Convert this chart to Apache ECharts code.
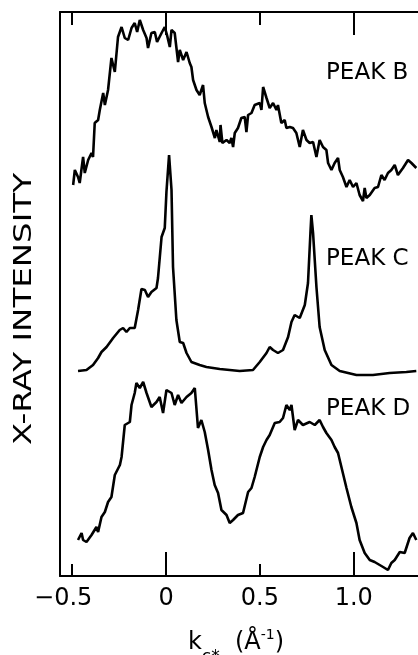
<!DOCTYPE html>
<html>
<head>
<meta charset="utf-8">
<script src="https://cdn.jsdelivr.net/npm/echarts@6/dist/echarts.min.js"></script>
<style>html,body{margin:0;padding:0;background:#fff}#c{width:418px;height:655px}</style>
</head>
<body>
<div id="c"></div>
<script>
// x: k_c* (1/Angstrom); y: X-ray intensity (arbitrary units, curves offset)
const tickLabels = [-0.5, 0, 0.5, 1.0];
const majorTicks = [0, 1.0];
const minorTicks = [-0.5, 0.5];
const seriesNames = ['PEAK B', 'PEAK C', 'PEAK D'];

const peakB = [[-0.495,391],[-0.486,406],[-0.469,399],[-0.460,393],[-0.442,419],[-0.433,403],[-0.415,416],[-0.397,423],[-0.389,419],[-0.380,453],[-0.362,456],[-0.353,466],[-0.335,483],[-0.326,471],[-0.309,486],[-0.291,518],[-0.282,519],[-0.273,504],[-0.256,539],[-0.237,549],[-0.220,538],[-0.202,536],[-0.184,548],[-0.167,553],[-0.154,544],[-0.140,556],[-0.122,546],[-0.104,538],[-0.096,528],[-0.078,543],[-0.060,544],[-0.048,534],[-0.024,543],[-0.007,549],[0.005,541],[0.020,529],[0.029,546],[0.046,543],[0.064,514],[0.073,526],[0.091,516],[0.109,524],[0.126,513],[0.135,509],[0.144,496],[0.162,486],[0.179,481],[0.197,491],[0.206,473],[0.224,459],[0.242,449],[0.260,438],[0.268,446],[0.286,434],[0.290,451],[0.300,433],[0.322,436],[0.339,433],[0.348,438],[0.357,429],[0.366,443],[0.383,448],[0.401,458],[0.419,459],[0.428,444],[0.437,461],[0.455,463],[0.472,471],[0.499,473],[0.508,466],[0.517,489],[0.535,478],[0.552,468],[0.570,473],[0.588,466],[0.596,471],[0.614,453],[0.632,456],[0.641,448],[0.659,449],[0.676,448],[0.694,443],[0.712,429],[0.729,446],[0.748,436],[0.765,433],[0.783,434],[0.801,419],[0.818,436],[0.836,429],[0.854,426],[0.863,413],[0.881,406],[0.898,413],[0.916,418],[0.925,406],[0.942,399],[0.961,389],[0.978,396],[0.996,389],[1.014,393],[1.031,381],[1.049,375],[1.058,388],[1.067,378],[1.085,381],[1.111,388],[1.129,389],[1.147,401],[1.164,396],[1.182,403],[1.200,406],[1.218,411],[1.235,401],[1.262,408],[1.289,416],[1.307,413],[1.333,408]];

const peakC = [[-0.469,205],[-0.424,206],[-0.389,211],[-0.362,218],[-0.344,224],[-0.317,229],[-0.282,238],[-0.247,246],[-0.229,248],[-0.211,244],[-0.193,248],[-0.167,248],[-0.149,266],[-0.131,287],[-0.113,286],[-0.096,279],[-0.078,284],[-0.051,288],[-0.043,298],[-0.024,339],[-0.007,348],[0.002,384],[0.016,421],[0.029,386],[0.037,309],[0.055,256],[0.073,234],[0.091,233],[0.109,223],[0.135,214],[0.179,211],[0.215,209],[0.286,207],[0.392,205],[0.463,206],[0.499,214],[0.535,223],[0.552,229],[0.570,226],[0.596,223],[0.623,226],[0.650,239],[0.668,254],[0.685,261],[0.712,258],[0.739,271],[0.756,293],[0.769,343],[0.774,361],[0.783,343],[0.801,289],[0.818,249],[0.845,226],[0.881,211],[0.925,205],[1.014,201],[1.102,201],[1.191,203],[1.280,204],[1.333,205]];

const peakD = [[-0.469,36],[-0.450,43],[-0.442,36],[-0.424,34],[-0.397,41],[-0.371,49],[-0.362,44],[-0.344,59],[-0.326,64],[-0.309,74],[-0.291,79],[-0.273,101],[-0.246,111],[-0.237,119],[-0.220,151],[-0.193,154],[-0.184,171],[-0.167,183],[-0.158,193],[-0.140,188],[-0.122,194],[-0.104,183],[-0.078,169],[-0.051,174],[-0.034,179],[-0.016,163],[0.002,186],[0.029,183],[0.046,171],[0.064,181],[0.082,173],[0.109,179],[0.135,183],[0.153,188],[0.170,148],[0.188,156],[0.206,144],[0.224,126],[0.242,106],[0.259,91],[0.277,83],[0.295,66],[0.322,61],[0.339,53],[0.357,56],[0.383,61],[0.410,63],[0.437,84],[0.455,88],[0.472,99],[0.499,119],[0.517,129],[0.535,136],[0.552,141],[0.579,153],[0.605,154],[0.623,158],[0.641,171],[0.659,166],[0.668,171],[0.685,146],[0.703,156],[0.729,151],[0.765,154],[0.792,151],[0.818,156],[0.836,149],[0.854,143],[0.881,136],[0.898,129],[0.916,123],[0.934,109],[0.961,88],[0.987,69],[1.014,53],[1.031,36],[1.058,23],[1.085,16],[1.111,14],[1.138,11],[1.156,9],[1.182,6],[1.200,13],[1.218,16],[1.245,24],[1.271,23],[1.297,38],[1.315,43],[1.333,36]];

const FONT = 'DejaVu Sans';
const X_MIN = -0.565, X_MAX = 1.342;
const chart = echarts.init(document.getElementById('c'), null, {renderer: 'canvas'});

function baseX(pos, ticks, len, extra) {
  return Object.assign({
    type: 'value', position: pos, min: X_MIN, max: X_MAX,
    axisLine: {show: false, onZero: false},
    axisTick: {show: true, inside: true, length: len, customValues: ticks, lineStyle: {color: '#000', width: 2}},
    axisLabel: {show: false},
    splitLine: {show: false}
  }, extra || {});
}

const option = {
  animation: false,
  backgroundColor: '#fff',
  grid: {left: 60, right: 0, top: 12, bottom: 79, containLabel: false, outerBoundsMode: 'none'},
  xAxis: [
    baseX('bottom', majorTicks, 24, {
      axisLine: {show: true, onZero: false, lineStyle: {color: '#000', width: 2}},
      axisLabel: {
        show: true, customValues: tickLabels, margin: 11, color: '#000',
        fontFamily: FONT, fontSize: 24,
        formatter: v => v < 0 ? '{n|\u2212' + Math.abs(v) + '}' : (v === 1 ? '1.0' : String(v)),
        rich: {n: {fontFamily: FONT, fontSize: 24, color: '#000', padding: [0, 18, 0, 0]}}
      },
      name: '{a|k}{b|c*}{a|  (Å}{c|-1}{a|)}',
      nameLocation: 'middle', nameGap: 43,
      nameTextStyle: {
        color: '#000', padding: [0, 6, 0, 0],
        rich: {
          a: {fontFamily: FONT, fontSize: 24, color: '#000'},
          b: {fontFamily: FONT, fontSize: 17, color: '#000', padding: [30, 0, 0, 0]},
          c: {fontFamily: FONT, fontSize: 14, color: '#000', padding: [0, 0, 15, 0]}
        }
      }
    }),
    baseX('bottom', minorTicks, 12),
    baseX('top', majorTicks, 23, {axisLine: {show: true, onZero: false, lineStyle: {color: '#000', width: 2}}}),
    baseX('top', minorTicks, 13)
  ],
  yAxis: {
    type: 'value', min: 0, max: 564, position: 'left',
    axisLine: {show: true, onZero: false, lineStyle: {color: '#000', width: 2}},
    axisTick: {show: false}, axisLabel: {show: false}, splitLine: {show: false}
  },
  graphic: [
    {type: 'text', x: 24, y: 309, rotation: Math.PI / 2, scaleX: 1.3,
     style: {text: 'X-RAY INTENSITY', fill: '#000', font: '25px "DejaVu Sans"', align: 'center', verticalAlign: 'middle'}},
    {type: 'text', x: 326, y: 73, style: {text: seriesNames[0], fill: '#000', font: '23px "DejaVu Sans"', align: 'left', verticalAlign: 'middle'}},
    {type: 'text', x: 326, y: 259, style: {text: seriesNames[1], fill: '#000', font: '23px "DejaVu Sans"', align: 'left', verticalAlign: 'middle'}},
    {type: 'text', x: 326, y: 409, style: {text: seriesNames[2], fill: '#000', font: '23px "DejaVu Sans"', align: 'left', verticalAlign: 'middle'}}
  ],
  series: [peakB, peakC, peakD].map((d, i) => ({
    name: seriesNames[i], type: 'line', xAxisIndex: 0, yAxisIndex: 0,
    data: d, showSymbol: false, smooth: false, clip: true,
    lineStyle: {color: '#000', width: 2.6}
  }))
};
chart.setOption(option);
</script>
</body>
</html>
